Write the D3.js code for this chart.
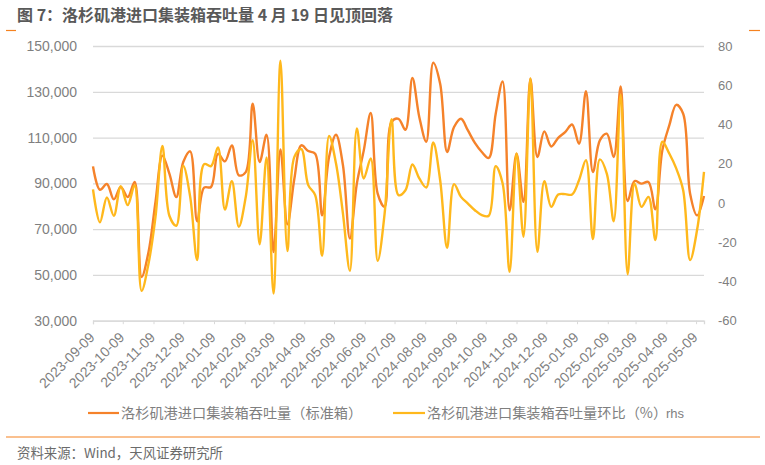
<!DOCTYPE html>
<html>
<head>
<meta charset="utf-8">
<script src="https://cdn.jsdelivr.net/npm/d3@7"></script>
<style>
  html, body { margin: 0; padding: 0; background: #fff; }
  svg { display: block; }
  text { font-family: "Liberation Sans", "Noto Sans CJK SC", sans-serif; }
  .cjk { font-family: "Noto Sans CJK SC", sans-serif; }
</style>
</head>
<body>
<div id="chart"></div>
<script>
const titleText = "图 7：洛杉矶港进口集装箱吞吐量 4 月 19 日见顶回落";
const sourceText = "资料来源：Wind，天风证券研究所";
const throughputName = "洛杉矶港进口集装箱吞吐量（标准箱）";
const changeName = "洛杉矶港进口集装箱吞吐量环比（%）";
const changeSuffix = "rhs";

const startDate = "2023-09-09";
const endDate = "2025-05-17";
const monthTicks = ["2023-09-09","2023-10-09","2023-11-09","2023-12-09","2024-01-09","2024-02-09",
  "2024-03-09","2024-04-09","2024-05-09","2024-06-09","2024-07-09","2024-08-09","2024-09-09",
  "2024-10-09","2024-11-09","2024-12-09","2025-01-09","2025-02-09","2025-03-09","2025-04-09","2025-05-09"];
const leftTicks = [30000, 50000, 70000, 90000, 110000, 130000, 150000];
const rightTicks = [-60, -40, -20, 0, 20, 40, 60, 80];

// weekly readings, off the picture
const throughput = [97400,87200,89700,83000,88400,84000,90600,49100,60000,81900,
  102100,94200,84000,99300,104000,73400,88100,88400,102900,99600,
  106600,93500,94900,124800,99300,111200,60000,104800,72100,92000,
  106600,104100,102900,76000,101500,111200,97900,65900,89900,104400,
  120700,85500,79700,116800,118200,113400,136000,118900,108200,142700,
  133500,103700,114600,118200,113100,107700,103700,101100,120400,134500,
  78200,102900,81900,135700,101500,112700,106100,109900,112400,115700,
  107300,130300,94900,108800,111700,101500,132300,82300,91000,89900,
  90600,78700,104400,115300,124300,120400,85500,76000,84500];
const change = [6.9,-9.9,2.8,-6.5,8.6,-1.1,9.1,-44.8,-30.8,-7.1,
  29.0,-6.5,-11.6,18.9,3.1,-29.1,19.8,18.8,28.3,-3.3,
  11.1,-12.1,3.1,32.0,-21.0,23.2,-46.1,72.5,-24.5,23.5,
  27.4,9.1,4.0,-26.9,34.1,20.1,-5.4,-34.6,38.0,12.5,
  22.7,-29.5,-5.4,42.7,4.0,6.5,19.6,12.5,7.9,30.8,
  11.6,-22.9,9.6,3.1,-0.3,-3.7,-6.2,-6.5,18.8,9.9,
  -35.1,25.2,-17.2,63.5,-24.9,11.1,-2.0,4.3,4.5,4.3,
  11.6,21.8,-18.4,22.2,15.0,-9.3,55.0,-36.3,9.9,-2.0,
  3.1,-18.9,31.2,25.2,17.6,6.5,-29.1,-13.8,15.9];

const W = 765, H = 465;
const plot = { left: 93, right: 704, top: 46, bottom: 320.7 };
const ORANGE = "#f5822a", YELLOW = "#ffb81c", GREY = "#7f7f7f", GRID = "#d9d9d9", RULE = "#f58220";

const parseDay = d3.utcParse("%Y-%m-%d");
const weeks = throughput.map((_, i) => d3.utcDay.offset(parseDay(startDate), i * 7));

const x = d3.scaleUtc().domain([parseDay(startDate), parseDay(endDate)]).range([plot.left, plot.right]);
const yL = d3.scaleLinear().domain([30000, 150000]).range([plot.bottom, plot.top]);
const yR = d3.scaleLinear().domain([-60, 80]).range([plot.bottom, plot.top]);

const svg = d3.select("#chart").append("svg").attr("width", W).attr("height", H);

// title and the two little orange dashes
svg.append("text").attr("class", "cjk").attr("x", 17).attr("y", 21)
  .attr("font-size", 16).attr("font-weight", 700).attr("fill", "#595959").text(titleText);
[[6, 16], [749, 760]].forEach(([a, b]) => {
  svg.append("line").attr("x1", a).attr("x2", b).attr("y1", 30.5).attr("y2", 30.5)
    .attr("stroke", RULE).attr("stroke-width", 1.2);
});

// left axis with gridlines
const gL = svg.append("g").attr("transform", `translate(${plot.left},0)`)
  .call(d3.axisLeft(yL).tickValues(leftTicks).tickSize(-(plot.right - plot.left)).tickPadding(16).tickFormat(d3.format(",")));
gL.select(".domain").remove();
gL.selectAll(".tick line").attr("stroke", GRID).attr("stroke-width", 1.3);
gL.selectAll(".tick text").attr("fill", GREY).attr("font-size", 14)
  .attr("x", -16).attr("dy", "0.32em");

// right axis, labels only
const gR = svg.append("g").attr("transform", `translate(${plot.right},0)`)
  .call(d3.axisRight(yR).tickValues(rightTicks).tickSize(0).tickPadding(14));
gR.select(".domain").remove();
gR.selectAll(".tick text").attr("fill", GREY).attr("font-size", 13).attr("dy", "0.32em");
// minus hyphen as in the source
gR.selectAll(".tick text").text(d => String(d));

// date axis
const gX = svg.append("g").attr("transform", `translate(0,${plot.bottom})`)
  .call(d3.axisBottom(x).tickValues(monthTicks.map(parseDay)).tickSize(3.5).tickFormat(d3.utcFormat("%Y-%m-%d")));
gX.select(".domain").attr("stroke", GRID).attr("stroke-width", 1.3);
gX.selectAll(".tick line").attr("stroke", GRID).attr("stroke-width", 1);
gX.selectAll(".tick text").attr("fill", GREY).attr("font-size", 14)
  .attr("text-anchor", "end").attr("dx", "-11px").attr("dy", "0.35em").attr("y", 9)
  .attr("transform", "rotate(-45)");

// the two series
const smooth = d3.curveCatmullRom.alpha(0.5);
const lineL = d3.line().x((_, i) => x(weeks[i])).y(d => yL(d)).curve(smooth);
const lineR = d3.line().x((_, i) => x(weeks[i])).y(d => yR(d)).curve(smooth);
svg.append("path").datum(throughput).attr("d", lineL).attr("fill", "none")
  .attr("stroke", ORANGE).attr("stroke-width", 2.4).attr("stroke-linejoin", "round");
svg.append("path").datum(change).attr("d", lineR).attr("fill", "none")
  .attr("stroke", YELLOW).attr("stroke-width", 2.4).attr("stroke-linejoin", "round");

// legend
const legendY = 413;
[[88, 119, ORANGE], [393, 425, YELLOW]].forEach(([a, b, c]) => {
  svg.append("line").attr("x1", a).attr("x2", b).attr("y1", legendY).attr("y2", legendY)
    .attr("stroke", c).attr("stroke-width", 2.2);
});
svg.append("text").attr("class", "cjk").attr("x", 121).attr("y", legendY + 5)
  .attr("font-size", 14.2).attr("fill", GREY).text(throughputName);
svg.append("text").attr("class", "cjk").attr("x", 427).attr("y", legendY + 5)
  .attr("font-size", 14.2).attr("fill", GREY).text(changeName);
svg.append("text").attr("x", 666).attr("y", legendY + 5)
  .attr("font-size", 13).attr("fill", GREY).text(changeSuffix);

// bottom rule and source
svg.append("line").attr("x1", 6).attr("x2", 760).attr("y1", 437).attr("y2", 437)
  .attr("stroke", RULE).attr("stroke-width", 1.2);
svg.append("text").attr("class", "cjk").attr("x", 17).attr("y", 458)
  .attr("font-size", 13.4).attr("fill", "#6b6b6b").text(sourceText);
</script>
</body>
</html>
